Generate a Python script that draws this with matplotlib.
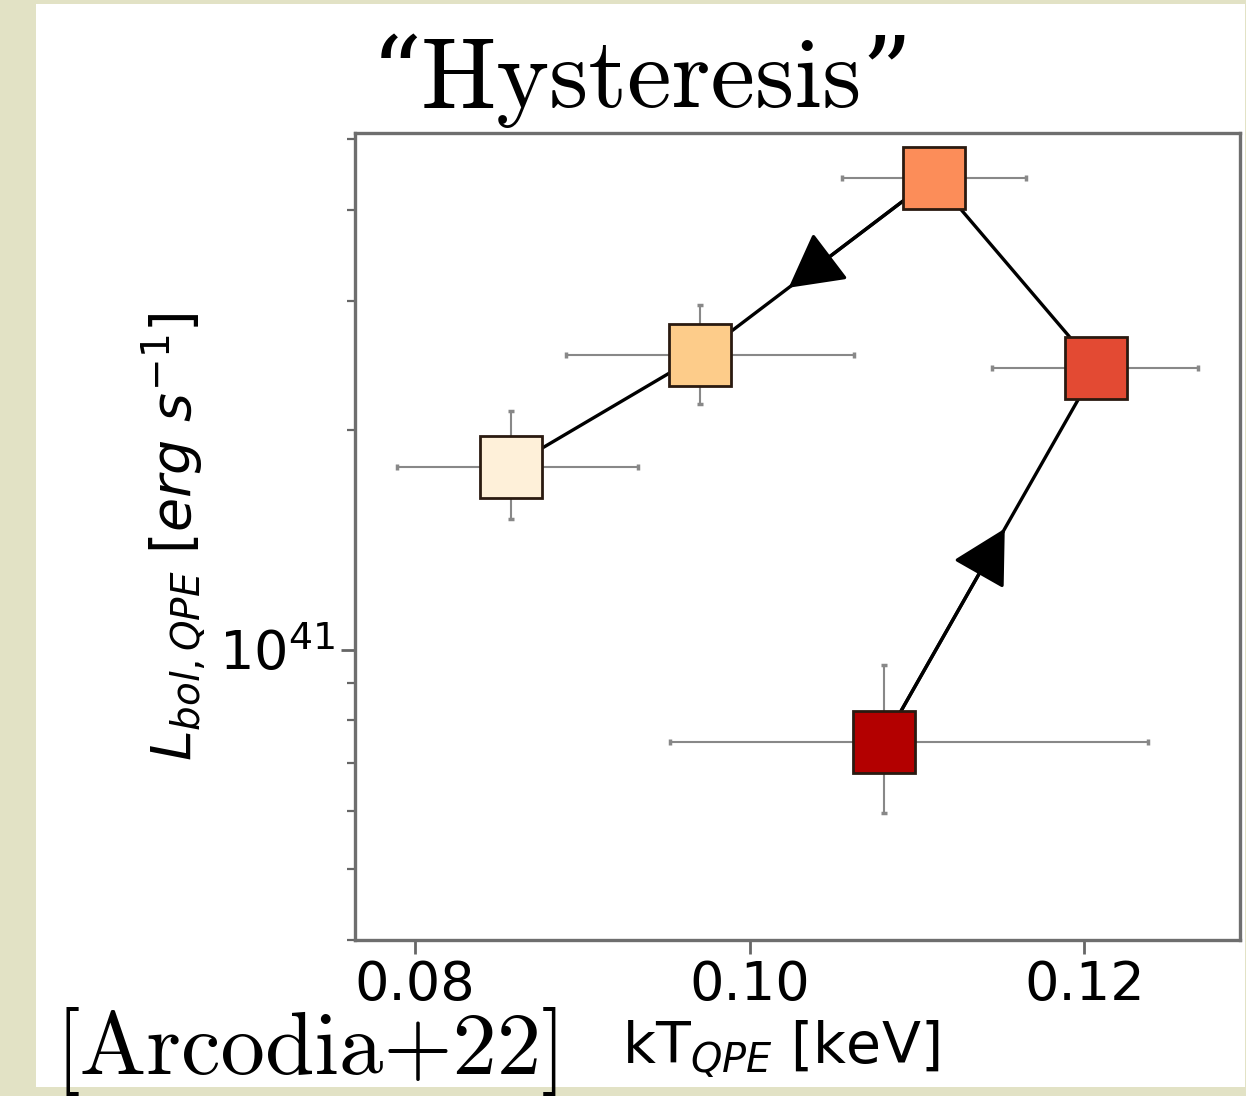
import matplotlib.pyplot as plt
from matplotlib.patches import Rectangle

# data (time order: darkest -> lightest)
kT = [0.1080, 0.1207, 0.1110, 0.0970, 0.0857]
kT_lo = [0.0128, 0.0062, 0.0055, 0.0080, 0.0068]
kT_hi = [0.0158, 0.0061, 0.0055, 0.0092, 0.0076]
L = [0.748e41, 2.43e41, 4.43e41, 2.53e41, 1.78e41]
L_lo = [0.150e41, 0.18e41, 0.30e41, 0.36e41, 0.27e41]
L_hi = [0.203e41, 0.18e41, 0.30e41, 0.43e41, 0.345e41]
colors = ["#b30000", "#e34a33", "#fc8d59", "#fdcc8a", "#fef0d9"]
xticks = [0.08, 0.10, 0.12]
xticklabels = ["0.08", "0.10", "0.12"]
# segments carrying an arrow head, and where along them the tip sits
arrow_segs = [(0, 1, 0.57), (2, 3, 0.62)]

fig = plt.figure(figsize=(12.46, 10.96), dpi=100, facecolor="#e2e2c5")
fig.patches.append(Rectangle((36 / 1246, 9 / 1096), (1245 - 36) / 1246, (1092 - 9) / 1096,
                             transform=fig.transFigure, facecolor="white",
                             edgecolor="none", zorder=-5))

ax = fig.add_axes([355 / 1246, 1 - 940 / 1096, 885 / 1246, 807 / 1096])
ax.set_yscale("log")
ax.set_xlim(0.0764, 0.1293)
ax.set_ylim(4.0e40, 5.1e41)

ax.errorbar(kT, L, xerr=[kT_lo, kT_hi], yerr=[L_lo, L_hi], fmt="none",
            ecolor="#888888", elinewidth=1.5, capsize=2.5, capthick=2.5, zorder=1)
ax.plot(kT, L, color="black", lw=2.4, zorder=2)
for i in range(len(kT)):
    ax.plot(kT[i], L[i], marker="s", ms=44, color=colors[i], mec="#2a1a10",
            mew=2.0, ls="none", zorder=4)

for a, b, f in arrow_segs:
    tip = (kT[a] + f * (kT[b] - kT[a]), L[a] * (L[b] / L[a]) ** f)
    ax.annotate("", xy=tip, xytext=(kT[a], L[a]),
                arrowprops=dict(arrowstyle="-|>,head_length=3.4,head_width=1.85",
                                color="black", lw=2.4, shrinkA=0, shrinkB=0,
                                mutation_scale=10),
                zorder=3)

ax.set_xticks(xticks)
ax.set_xticklabels(xticklabels)
ax.tick_params(axis="both", which="major", labelsize=39, length=10, width=2,
               color="#666666", pad=4)
ax.tick_params(axis="y", which="minor", length=6, width=1.6, color="#666666")
ax.tick_params(axis="y", which="minor", labelleft=False)
for s in ax.spines.values():
    s.set_color("#6e6e6e")
    s.set_linewidth(2.4)

ax.set_xlabel("kT$_{QPE}$ [keV]", fontsize=41)
ax.xaxis.set_label_coords(0.481, -0.097)
ax.set_ylabel(r"$L_{bol,QPE}$ [$erg$ $s^{-1}$]", fontsize=40)
ax.yaxis.set_label_coords(-0.166, 0.5)

fig.text(642 / 1246, 1 - 107 / 1096, "\u201cHysteresis\u201d", family=["cmr10", "DejaVu Serif"],
         fontsize=72, ha="center", va="baseline")
fig.text(56 / 1246, 1 - 1074 / 1096, "[Arcodia+22]", family=["cmr10", "DejaVu Serif"],
         fontsize=64, ha="left", va="baseline")

fig.savefig("out.png", dpi=100, facecolor=fig.get_facecolor())
